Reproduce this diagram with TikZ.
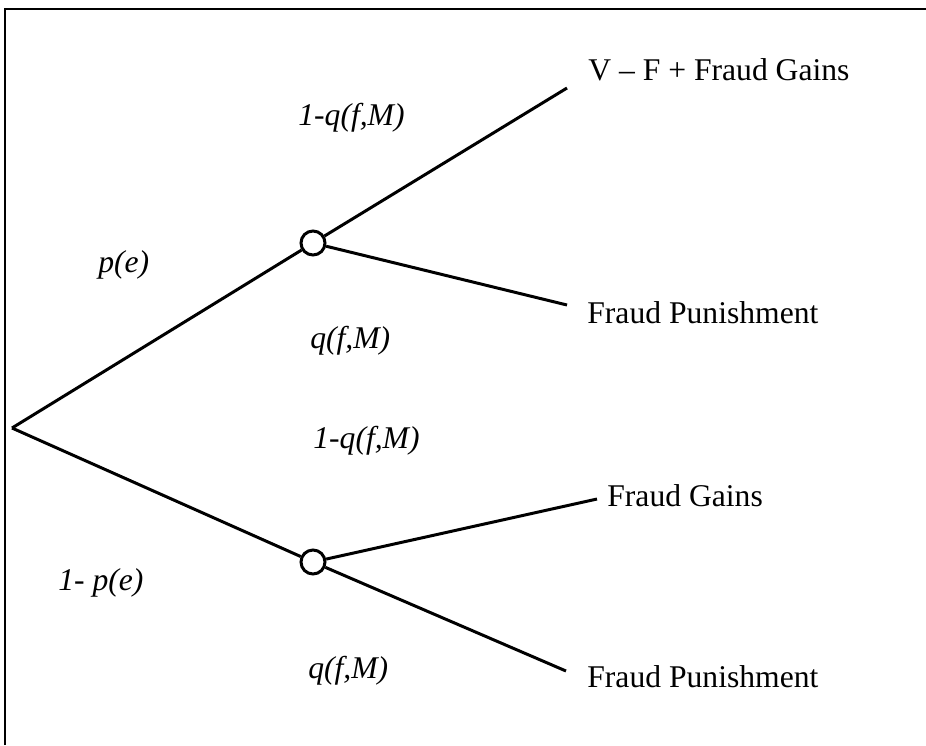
\documentclass[tikz,border=0pt]{standalone}
\usepackage{fontspec}
\setmainfont{Liberation Serif}
\usetikzlibrary{positioning}
\tikzset{
  chance/.style={draw,circle,line width=1.7pt,minimum size=0.48cm,inner sep=0pt},
  branch/.style={line width=1.7pt},
  payoff/.style={anchor=base west,inner sep=0pt,font=\fontsize{18}{22}\selectfont},
  prob/.style={anchor=base west,inner sep=0pt,font=\fontsize{18}{22}\selectfont\itshape}
}

\begin{document}
\begin{tikzpicture}[x=0.02cm,y=-0.02cm]
	\useasboundingbox (0,0) rectangle (926,745);
	%FRAME
	\draw[line width=0.9pt] (5,745)--(5,9)--(926,9);

	%NODES
	\coordinate (root) at (12,428);
	\node[chance] (up) at (313,243) {};
	\node[chance] (down) at (313,562) {};
	\coordinate (e1) at (567,88);
	\coordinate (e2) at (567,305);
	\coordinate (e3) at (597,499);
	\coordinate (e4) at (566,671);

	%BRANCHES
	\draw[branch] (root)--(up);
	\draw[branch] (root)--(down);
	\draw[branch] (up)--(e1);
	\draw[branch] (up)--(e2);
	\draw[branch] (down)--(e3);
	\draw[branch] (down)--(e4);

	%PAYOFFS
	\node[payoff] (vfg) at (588,80) {V \textendash{} F + Fraud Gains};
	\node[payoff] (fp1) at (587,323) {Fraud Punishment};
	\node[payoff] (fg) at (607,506) {Fraud Gains};
	\node[payoff] (fp2) at (587,687) {Fraud Punishment};

	%PROBABILITIES
	\node[prob] (pe) at (98,272) {p(e)};
	\node[prob] (npe) at (58,590) {1- p(e)};
	\node[prob] (nq1) at (298,125) {1-q(f,M)};
	\node[prob] (q1) at (310,348) {q(f,M)};
	\node[prob] (nq2) at (313,448) {1-q(f,M)};
	\node[prob] (q2) at (308,678) {q(f,M)};
\end{tikzpicture}
\end{document}
